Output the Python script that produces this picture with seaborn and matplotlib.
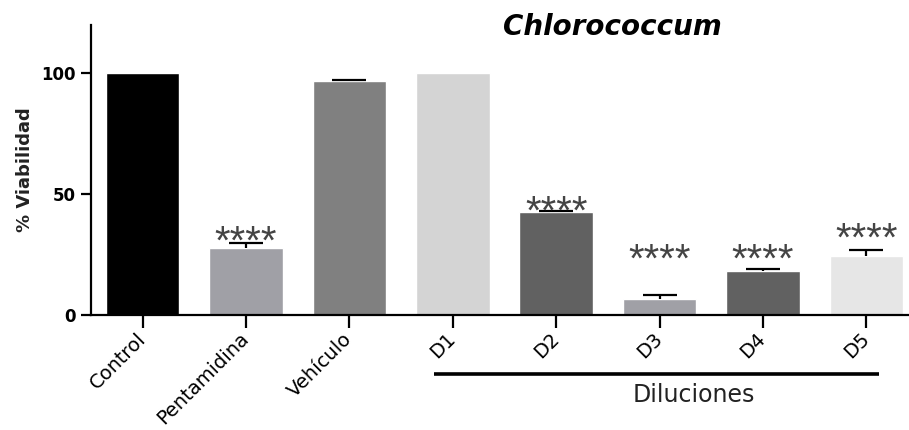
import numpy as np
import pandas as pd
import matplotlib
matplotlib.use("Agg")
import matplotlib.pyplot as plt
import matplotlib.transforms as mtransforms
import seaborn as sns

# ---- data ----
categories = ["Control", "Pentamidina", "Vehículo", "D1", "D2", "D3", "D4", "D5"]
viability = [100.0, 27.7, 96.8, 100.0, 42.7, 6.8, 18.4, 24.5]
errors = [0.0, 2.3, 0.3, 0.0, 0.5, 1.4, 0.8, 2.4]
bar_colors = ["#000000", "#a0a0a6", "#808080", "#d4d4d4",
              "#616161", "#a0a0a6", "#616161", "#e6e6e6"]
sig_labels = ["", "****", "", "", "****", "****", "****", "****"]
sig_heights = [0, 33.2, 0, 0, 45.6, 25.9, 25.9, 34.4]
yticks = [0, 50, 100]
group_label = "Diluciones"
group_members = ["D1", "D2", "D3", "D4", "D5"]
title = "Chlorococcum"
ylabel = "% Viabilidad"

sns.set_style("ticks")
plt.rcParams["font.family"] = ["DejaVu Sans"]

fig = plt.figure(figsize=(9.09, 4.30), dpi=100)
ax = fig.add_axes([91 / 909, 115 / 430, 827 / 909, 290 / 430])

df = pd.DataFrame({"cat": categories, "val": viability})
sns.barplot(data=df, x="cat", y="val", hue="cat", palette=bar_colors,
            order=categories, hue_order=categories, legend=False,
            width=0.71, saturation=1, ax=ax, errorbar=None, zorder=2)

# upper-only error bars (GraphPad style)
xpos = np.arange(len(categories))
vals = np.array(viability)
errs = np.array(errors)
mask = errs > 0
ax.vlines(xpos[mask], vals[mask], vals[mask] + errs[mask], color="black",
          lw=1.6, zorder=3)
ax.hlines(vals[mask] + errs[mask], xpos[mask] - 0.165, xpos[mask] + 0.165,
          color="black", lw=1.6, zorder=3)

# significance stars
star_trans = mtransforms.offset_copy(ax.transData, fig=fig, x=0, y=-19, units="dots")
for i, (lab, h) in enumerate(zip(sig_labels, sig_heights)):
    if lab:
        ax.text(i, h, lab, ha="center", va="baseline", fontsize=29,
                family=["Liberation Sans", "DejaVu Sans"],
                color="#444444", transform=star_trans, zorder=4)

ax.set_xlim(-0.5, len(categories) - 0.5)
ax.set_ylim(0, 120)
ax.set_yticks(yticks)
ax.set_yticklabels([str(t) for t in yticks], fontsize=12, fontweight="bold",
                   color="#222222")
ax.set_xlabel("")
ax.set_ylabel(ylabel, fontsize=13, fontweight="bold", color="#222222")
ax.yaxis.set_label_coords(-0.069, 0.5)

ax.set_xticks(xpos)
ax.set_xticklabels(categories, rotation=45, ha="right", va="center",
                   rotation_mode="anchor", fontsize=14)
ax.tick_params(axis="x", length=9, width=1.6, pad=6, colors="black")
ax.tick_params(axis="y", length=7, width=1.6, pad=4, colors="black")

sns.despine(ax=ax)
for s in ["left", "bottom"]:
    ax.spines[s].set_linewidth(1.6)
    ax.spines[s].set_color("black")

# group bracket under D1..D5
i0 = categories.index(group_members[0])
i1 = categories.index(group_members[-1])
blend = mtransforms.blended_transform_factory(ax.transData, fig.transFigure)
ax.plot([i0 - 0.18, i1 + 0.12], [0.130, 0.130], color="black", lw=2.6,
        transform=blend, clip_on=False, solid_capstyle="butt")
ax.text((i0 + i1) / 2 + 0.33, 0.081, group_label, ha="center", va="center",
        fontsize=17, color="#222222", transform=blend)

fig.text(612 / 909, 0.937, title, ha="center", va="center", fontsize=20,
         fontweight="bold", fontstyle="italic", color="black")

fig.savefig("out.png", dpi=100)
